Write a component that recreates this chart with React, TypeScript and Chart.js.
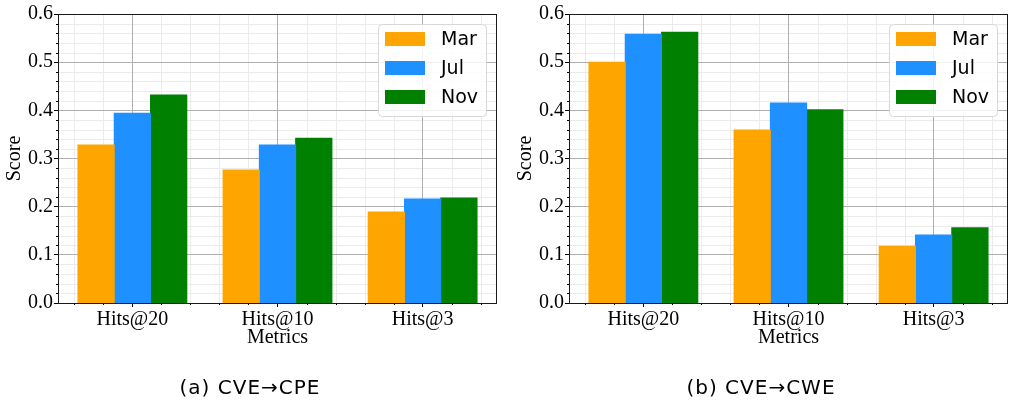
import React, { useEffect, useRef } from 'react';
import { Chart, registerables } from 'chart.js';

Chart.register(...registerables);

// ---------- data ----------
const categories = ['Hits@20', 'Hits@10', 'Hits@3'];
const seriesLabels = ['Mar', 'Jul', 'Nov'];
const seriesColors = ['#FFA500', '#1E90FF', '#008000'];

const cpeMar = [0.328, 0.276, 0.189];
const cpeJul = [0.394, 0.328, 0.216];
const cpeNov = [0.432, 0.342, 0.218];

const cweMar = [0.5, 0.359, 0.118];
const cweJul = [0.558, 0.415, 0.141];
const cweNov = [0.562, 0.401, 0.156];

const yTickValues = [0, 0.1, 0.2, 0.3, 0.4, 0.5, 0.6];
const yMinorTicks = [0.02, 0.04, 0.06, 0.08, 0.12, 0.14, 0.16, 0.18, 0.22, 0.24, 0.26, 0.28, 0.32, 0.34, 0.36, 0.38, 0.42, 0.44, 0.46, 0.48, 0.52, 0.54, 0.56, 0.58];
const xMinorTicks = [-0.4, -0.2, 0.2, 0.4, 0.6, 0.8, 1.2, 1.4, 1.6, 1.8, 2.2, 2.4];

const yTitle = 'Score';
const xTitle = 'Metrics';
const captionA = '(a) CVE→CPE';
const captionB = '(b) CVE→CWE';

// ---------- styling ----------
const SERIF = "'Liberation Serif', 'DejaVu Serif', serif";
const SANS = "'DejaVu Sans', sans-serif";
const MAJOR_GRID = '#b0b0b0';
const MINOR_GRID = '#ebebeb';

const decorPlugin = {
  id: 'decor',
  beforeDraw(chart: any) {
    const { ctx, chartArea: a, scales } = chart;
    const x = scales.x;
    const y = scales.y;
    ctx.save();
    ctx.strokeStyle = MINOR_GRID;
    ctx.lineWidth = 1;
    ctx.beginPath();
    yMinorTicks.forEach((v) => {
      const py = Math.round(y.getPixelForValue(v)) + 0.5;
      ctx.moveTo(a.left, py);
      ctx.lineTo(a.right, py);
    });
    xMinorTicks.forEach((v) => {
      const px = Math.round(x.getPixelForValue(v)) + 0.5;
      ctx.moveTo(px, a.top);
      ctx.lineTo(px, a.bottom);
    });
    ctx.stroke();
    ctx.restore();
  },
  afterDatasetsDraw(chart: any) {
    const { ctx, chartArea: a, scales } = chart;
    const x = scales.x;
    const y = scales.y;
    ctx.save();
    ctx.strokeStyle = '#000';
    ctx.lineWidth = 1;
    // minor ticks
    ctx.beginPath();
    yMinorTicks.forEach((v) => {
      const py = Math.round(y.getPixelForValue(v)) + 0.5;
      ctx.moveTo(a.left - 2, py);
      ctx.lineTo(a.left, py);
    });
    xMinorTicks.forEach((v) => {
      const px = Math.round(x.getPixelForValue(v)) + 0.5;
      ctx.moveTo(px, a.bottom);
      ctx.lineTo(px, a.bottom + 2);
    });
    ctx.stroke();
    // spines
    ctx.strokeStyle = '#1a1a1a';
    const l = Math.round(a.left) + 0.5;
    const t = Math.round(a.top) + 0.5;
    const r = Math.round(a.right) - 0.5;
    const b = Math.round(a.bottom) + 0.5;
    ctx.strokeRect(l, t, r - l, b - t);
    ctx.restore();
  },
  afterDraw(chart: any) {
    const { ctx, chartArea: a } = chart;
    const w = 108;
    const h = 92;
    const bx = a.right - 11 - w;
    const by = a.top + 10;
    ctx.save();
    ctx.beginPath();
    ctx.roundRect(bx + 0.5, by + 0.5, w, h, 4);
    ctx.fillStyle = 'rgba(255,255,255,0.85)';
    ctx.fill();
    ctx.strokeStyle = '#d8d8d8';
    ctx.lineWidth = 1;
    ctx.stroke();
    ctx.font = `19px ${SANS}`;
    ctx.textBaseline = 'middle';
    ctx.textAlign = 'left';
    chart.data.datasets.forEach((ds: any, i: number) => {
      const cy = by + 15 + i * 29;
      ctx.fillStyle = ds.backgroundColor;
      ctx.fillRect(bx + 7, cy - 7, 40, 14);
      ctx.fillStyle = '#000';
      ctx.fillText(ds.label, bx + 63, cy + 1);
    });
    ctx.restore();
  },
};

function makeConfig(series: number[][], padRight: number): any {
  const font = { family: SERIF, size: 20 };
  return {
    type: 'bar',
    data: {
      datasets: series.map((vals, i) => ({
        label: seriesLabels[i],
        data: vals.map((v, j) => ({ x: j, y: v })),
        backgroundColor: seriesColors[i],
        borderWidth: 0,
        inflateAmount: 0.5,
        categoryPercentage: 0.75,
        barPercentage: 1.0,
      })),
    },
    options: {
      animation: false,
      responsive: false,
      devicePixelRatio: 1,
      layout: { padding: { left: 0, right: padRight, top: 14, bottom: 49 } },
      plugins: { legend: { display: false }, tooltip: { enabled: false }, title: { display: false } },
      scales: {
        x: {
          type: 'linear',
          offset: false,
          min: -0.5125,
          max: 2.5125,
          afterBuildTicks: (s: any) => {
            s.ticks = categories.map((_, i) => ({ value: i }));
          },
          afterFit: (s: any) => {
            s.height = 50;
          },
          ticks: {
            callback: (v: any) => categories[Math.round(Number(v))] ?? '',
            font,
            color: '#000',
            padding: 1,
            maxRotation: 0,
            autoSkip: false,
          },
          grid: { offset: false, color: MAJOR_GRID, tickColor: '#000', tickLength: 4, lineWidth: 1 },
          border: { display: false },
          title: { display: true, text: xTitle, font, color: '#000', padding: { top: 0, bottom: 3 } },
        },
        y: {
          type: 'linear',
          min: 0,
          max: 0.6,
          afterBuildTicks: (s: any) => {
            s.ticks = yTickValues.map((v) => ({ value: v }));
          },
          afterFit: (s: any) => {
            s.width = 58;
          },
          ticks: {
            callback: (v: any) => Number(v).toFixed(1),
            font,
            color: '#000',
            padding: 1,
            autoSkip: false,
          },
          grid: { color: MAJOR_GRID, tickColor: '#000', tickLength: 4, lineWidth: 1 },
          border: { display: false },
          title: { display: true, text: yTitle, font, color: '#000', padding: { top: 3, bottom: 0 } },
        },
      },
    },
    plugins: [decorPlugin],
  };
}

function Panel(props: { left: number; width: number; padRight: number; series: number[][]; caption: string; captionCenter: number }) {
  const ref = useRef<HTMLCanvasElement | null>(null);
  useEffect(() => {
    if (!ref.current) return;
    const chart = new Chart(ref.current, makeConfig(props.series, props.padRight));
    return () => chart.destroy();
  }, []);
  return (
    <>
      <canvas
        ref={ref}
        width={props.width}
        height={402}
        style={{ position: 'absolute', left: props.left, top: 0, width: props.width, height: 402 }}
      />
      <div
        style={{
          position: 'absolute',
          left: props.captionCenter - 150,
          width: 300,
          top: 375,
          textAlign: 'center',
          fontFamily: SANS,
          fontSize: 20,
          lineHeight: '24px',
          letterSpacing: '1px',
          color: '#000',
          whiteSpace: 'nowrap',
        }}
      >
        {props.caption}
      </div>
    </>
  );
}

export default function App() {
  return (
    <div style={{ position: 'fixed', left: 0, top: 0, width: 1009, height: 402, overflow: 'hidden', background: '#fff' }}>
      <Panel left={0} width={505} padRight={8} series={[cpeMar, cpeJul, cpeNov]} caption={captionA} captionCenter={250} />
      <Panel left={511} width={498} padRight={1} series={[cweMar, cweJul, cweNov]} caption={captionB} captionCenter={761} />
    </div>
  );
}
